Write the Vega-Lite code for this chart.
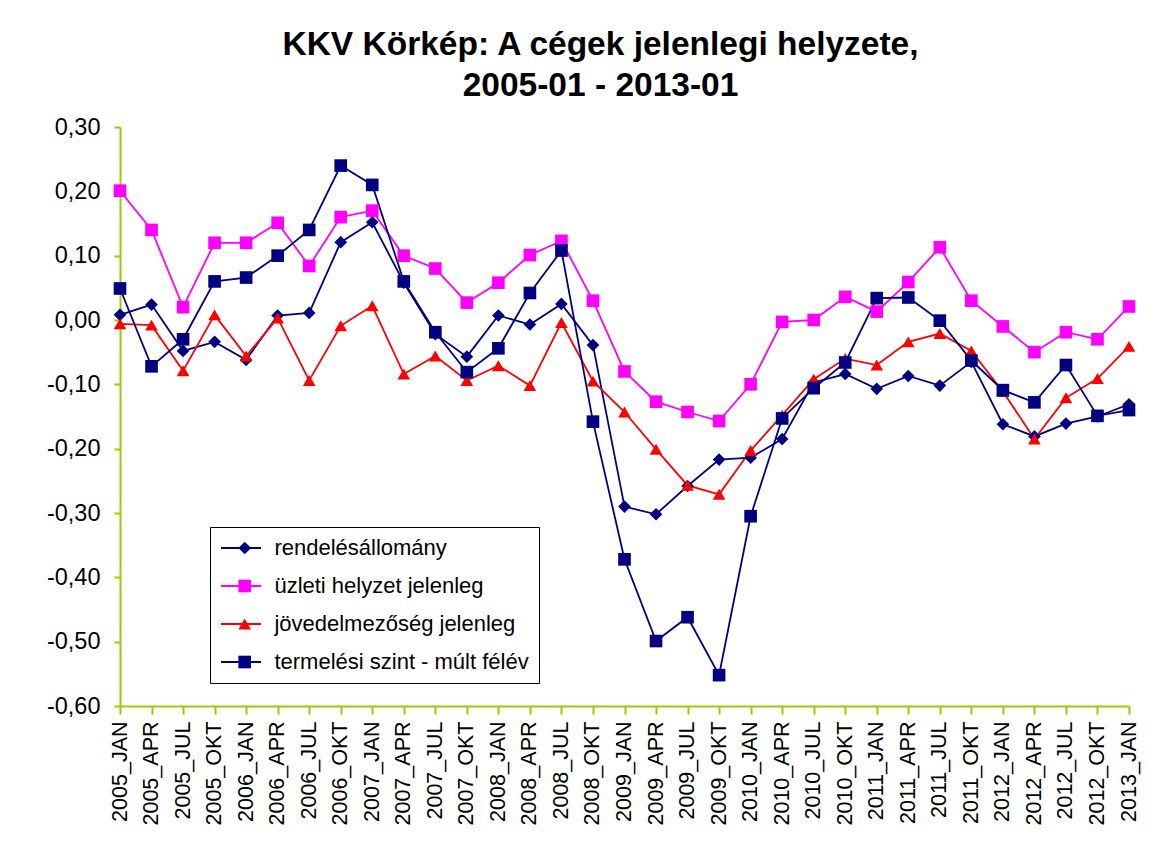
{
  "$schema": "https://vega.github.io/schema/vega-lite/v6.json",
  "autosize": {"type": "none"},
  "width": 1009,
  "height": 579,
  "padding": {"left": 120, "top": 127, "right": 31, "bottom": 158},
  "background": "white",
  "config": {
    "view": {"stroke": null},
    "font": "Liberation Sans"
  },
  "title": {
    "text": ["KKV Körkép: A cégek jelenlegi helyzete,", "2005-01 - 2013-01"],
    "font": "Liberation Sans",
    "fontSize": 33.5,
    "fontWeight": "bold",
    "color": "black",
    "anchor": "middle",
    "dx": -24,
    "offset": 12,
    "lineHeight": 41
  },
  "data": {
    "values": [
      {"p": "2005_JAN", "rendelésállomány": 0.008, "üzleti helyzet jelenleg": 0.201, "jövedelmezőség jelenleg": -0.006, "termelési szint - múlt félév": 0.049},
      {"p": "2005_APR", "rendelésállomány": 0.024, "üzleti helyzet jelenleg": 0.140, "jövedelmezőség jelenleg": -0.008, "termelési szint - múlt félév": -0.072},
      {"p": "2005_JUL", "rendelésállomány": -0.048, "üzleti helyzet jelenleg": 0.020, "jövedelmezőség jelenleg": -0.079, "termelési szint - múlt félév": -0.030},
      {"p": "2005_OKT", "rendelésállomány": -0.034, "üzleti helyzet jelenleg": 0.120, "jövedelmezőség jelenleg": 0.008, "termelési szint - múlt félév": 0.060},
      {"p": "2006_JAN", "rendelésállomány": -0.062, "üzleti helyzet jelenleg": 0.120, "jövedelmezőség jelenleg": -0.056, "termelési szint - múlt félév": 0.066},
      {"p": "2006_APR", "rendelésállomány": 0.007, "üzleti helyzet jelenleg": 0.151, "jövedelmezőség jelenleg": 0.003, "termelési szint - múlt félév": 0.100},
      {"p": "2006_JUL", "rendelésállomány": 0.011, "üzleti helyzet jelenleg": 0.084, "jövedelmezőség jelenleg": -0.094, "termelési szint - múlt félév": 0.140},
      {"p": "2006_OKT", "rendelésállomány": 0.121, "üzleti helyzet jelenleg": 0.160, "jövedelmezőség jelenleg": -0.009, "termelési szint - múlt félév": 0.240},
      {"p": "2007_JAN", "rendelésállomány": 0.152, "üzleti helyzet jelenleg": 0.170, "jövedelmezőség jelenleg": 0.022, "termelési szint - múlt félév": 0.210},
      {"p": "2007_APR", "rendelésállomány": 0.058, "üzleti helyzet jelenleg": 0.100, "jövedelmezőség jelenleg": -0.084, "termelési szint - múlt félév": 0.060},
      {"p": "2007_JUL", "rendelésállomány": -0.022, "üzleti helyzet jelenleg": 0.080, "jövedelmezőség jelenleg": -0.056, "termelési szint - múlt félév": -0.019},
      {"p": "2007_OKT", "rendelésállomány": -0.057, "üzleti helyzet jelenleg": 0.027, "jövedelmezőség jelenleg": -0.094, "termelési szint - múlt félév": -0.081},
      {"p": "2008_JAN", "rendelésállomány": 0.007, "üzleti helyzet jelenleg": 0.058, "jövedelmezőség jelenleg": -0.071, "termelési szint - múlt félév": -0.044},
      {"p": "2008_APR", "rendelésállomány": -0.007, "üzleti helyzet jelenleg": 0.101, "jövedelmezőség jelenleg": -0.102, "termelési szint - múlt félév": 0.042},
      {"p": "2008_JUL", "rendelésállomány": 0.025, "üzleti helyzet jelenleg": 0.123, "jövedelmezőség jelenleg": -0.004, "termelési szint - múlt félév": 0.108},
      {"p": "2008_OKT", "rendelésállomány": -0.039, "üzleti helyzet jelenleg": 0.030, "jövedelmezőség jelenleg": -0.095, "termelési szint - múlt félév": -0.158},
      {"p": "2009_JAN", "rendelésállomány": -0.290, "üzleti helyzet jelenleg": -0.080, "jövedelmezőség jelenleg": -0.143, "termelési szint - múlt félév": -0.372},
      {"p": "2009_APR", "rendelésállomány": -0.302, "üzleti helyzet jelenleg": -0.127, "jövedelmezőség jelenleg": -0.201, "termelési szint - múlt félév": -0.499},
      {"p": "2009_JUL", "rendelésállomány": -0.258, "üzleti helyzet jelenleg": -0.143, "jövedelmezőség jelenleg": -0.257, "termelési szint - múlt félév": -0.462},
      {"p": "2009_OKT", "rendelésállomány": -0.217, "üzleti helyzet jelenleg": -0.157, "jövedelmezőség jelenleg": -0.271, "termelési szint - múlt félév": -0.552},
      {"p": "2010_JAN", "rendelésállomány": -0.214, "üzleti helyzet jelenleg": -0.100, "jövedelmezőség jelenleg": -0.203, "termelési szint - múlt félév": -0.305},
      {"p": "2010_APR", "rendelésállomány": -0.185, "üzleti helyzet jelenleg": -0.003, "jövedelmezőség jelenleg": -0.148, "termelési szint - múlt félév": -0.153},
      {"p": "2010_JUL", "rendelésállomány": -0.097, "üzleti helyzet jelenleg": 0.000, "jövedelmezőség jelenleg": -0.092, "termelési szint - múlt félév": -0.106},
      {"p": "2010_OKT", "rendelésállomány": -0.084, "üzleti helyzet jelenleg": 0.036, "jövedelmezőség jelenleg": -0.060, "termelési szint - múlt félév": -0.066},
      {"p": "2011_JAN", "rendelésállomány": -0.107, "üzleti helyzet jelenleg": 0.013, "jövedelmezőség jelenleg": -0.070, "termelési szint - múlt félév": 0.034},
      {"p": "2011_APR", "rendelésállomány": -0.087, "üzleti helyzet jelenleg": 0.059, "jövedelmezőség jelenleg": -0.034, "termelési szint - múlt félév": 0.035},
      {"p": "2011_JUL", "rendelésállomány": -0.102, "üzleti helyzet jelenleg": 0.113, "jövedelmezőség jelenleg": -0.021, "termelési szint - múlt félév": -0.001},
      {"p": "2011_OKT", "rendelésállomány": -0.065, "üzleti helyzet jelenleg": 0.030, "jövedelmezőség jelenleg": -0.048, "termelési szint - múlt félév": -0.063},
      {"p": "2012_JAN", "rendelésállomány": -0.162, "üzleti helyzet jelenleg": -0.010, "jövedelmezőség jelenleg": -0.111, "termelési szint - múlt félév": -0.109},
      {"p": "2012_APR", "rendelésállomány": -0.181, "üzleti helyzet jelenleg": -0.050, "jövedelmezőség jelenleg": -0.185, "termelési szint - múlt félév": -0.128},
      {"p": "2012_JUL", "rendelésállomány": -0.161, "üzleti helyzet jelenleg": -0.019, "jövedelmezőség jelenleg": -0.121, "termelési szint - múlt félév": -0.070},
      {"p": "2012_OKT", "rendelésállomány": -0.150, "üzleti helyzet jelenleg": -0.030, "jövedelmezőség jelenleg": -0.091, "termelési szint - múlt félév": -0.149},
      {"p": "2013_JAN", "rendelésállomány": -0.131, "üzleti helyzet jelenleg": 0.021, "jövedelmezőség jelenleg": -0.041, "termelési szint - múlt félév": -0.140}
    ]
  },
  "transform": [
    {"fold": ["rendelésállomány", "üzleti helyzet jelenleg", "jövedelmezőség jelenleg", "termelési szint - múlt félév"], "as": ["series", "value"]}
  ],
  "encoding": {
    "x": {
      "field": "p",
      "type": "ordinal",
      "sort": null,
      "scale": {"type": "point", "padding": 0},
      "axis": {
        "title": null,
        "labelAngle": -90,
        "labelFont": "Liberation Sans",
        "labelFontSize": 21.5,
        "labelColor": "black",
        "labelPadding": 7,
        "tickSize": 8,
        "tickColor": "#99CC00",
        "tickWidth": 2,
        "domainColor": "#99CC00",
        "domainWidth": 2,
        "grid": false
      }
    },
    "y": {
      "field": "value",
      "type": "quantitative",
      "scale": {"domain": [-0.6, 0.3], "nice": false, "zero": false},
      "axis": {
        "title": null,
        "values": [-0.6, -0.5, -0.4, -0.3, -0.2, -0.1, 0, 0.1, 0.2, 0.3],
        "labelExpr": "(datum.value < -0.0001 ? '-' : '') + replace(format(abs(datum.value), '.2f'), '.', ',')",
        "labelFont": "Liberation Sans",
        "labelFontSize": 23.5,
        "labelColor": "black",
        "labelPadding": 14,
        "tickSize": 6,
        "tickColor": "#99CC00",
        "tickWidth": 2,
        "domainColor": "#99CC00",
        "domainWidth": 2,
        "grid": false
      }
    }
  },
  "layer": [
    {
      "mark": {"type": "line", "strokeWidth": 1.8},
      "encoding": {
        "stroke": {
          "field": "series",
          "type": "nominal",
          "scale": {
            "domain": ["rendelésállomány", "üzleti helyzet jelenleg", "jövedelmezőség jelenleg", "termelési szint - múlt félév", " "],
            "range": ["#000080", "#FF00FF", "#FF0000", "#000080", "transparent"]
          },
          "legend": {
            "orient": "none",
            "legendX": 90,
            "legendY": 400,
            "title": null,
            "padding": 10,
            "labelFont": "Liberation Sans",
            "labelFontSize": 22,
            "labelColor": "transparent",
            "labelExpr": "''",
            "labelLimit": 500,
            "rowPadding": 16,
            "symbolType": "M-2,0H2",
            "symbolSize": 400,
            "symbolOffset": 10,
            "symbolStrokeWidth": 1.8,
            "labelOffset": 15
          }
        },
        "detail": {"field": "series"}
      }
    },
    {
      "mark": {"type": "point", "filled": true, "size": 160, "opacity": 1, "strokeWidth": 0},
      "encoding": {
        "fill": {
          "field": "series",
          "type": "nominal",
          "scale": {
            "domain": ["rendelésállomány", "üzleti helyzet jelenleg", "jövedelmezőség jelenleg", "termelési szint - múlt félév"],
            "range": ["#000080", "#FF00FF", "#FF0000", "#000080"]
          },
          "legend": {
            "orient": "none",
            "legendX": 90,
            "legendY": 400,
            "title": null,
            "padding": 10,
            "strokeColor": "black",
            "labelFont": "Liberation Sans",
            "labelFontSize": 22,
            "labelColor": "black",
            "labelLimit": 500,
            "rowPadding": 16,
            "symbolSize": 160,
            "symbolOffset": 13.7,
            "symbolStrokeWidth": 0,
            "labelOffset": 18.7
          }
        },
        "shape": {
          "field": "series",
          "type": "nominal",
          "scale": {
            "domain": ["rendelésállomány", "üzleti helyzet jelenleg", "jövedelmezőség jelenleg", "termelési szint - múlt félév"],
            "range": ["diamond", "square", "triangle-up", "square"]
          }
        }
      }
    }
  ]
}
